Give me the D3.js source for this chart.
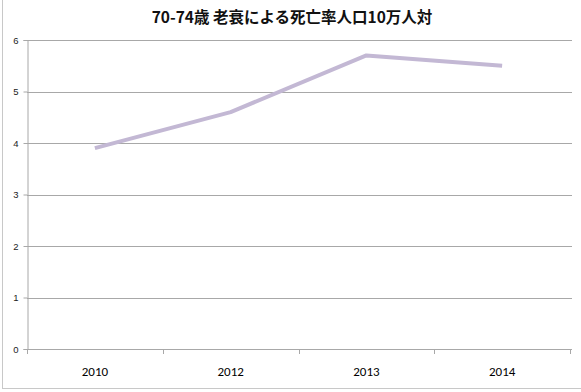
<!DOCTYPE html>
<html><head><meta charset="utf-8">
<script src="https://cdn.jsdelivr.net/npm/d3@7"></script>
<style>body{margin:0;background:#fff;}svg{display:block;}</style>
</head><body>
<svg id="c" width="581" height="392"></svg>
<script>
const title = "70-74歳 老衰による死亡率人口10万人対";
const categories = ["2010", "2012", "2013", "2014"];
const values = [3.9, 4.6, 5.7, 5.5];
const yTicks = [0, 1, 2, 3, 4, 5, 6];

const svg = d3.select("#c");
const W = 581, H = 392;
const m = {left: 27, right: 11, top: 40, bottom: 43};
const x = d3.scaleBand().domain(categories).range([m.left, W - m.right]);
const y = d3.scaleLinear().domain([0, 6]).range([H - m.bottom, m.top]);

// frame edges
svg.append("line").attr("x1", 2.5).attr("x2", 2.5).attr("y1", 0).attr("y2", 388).attr("stroke", "#c8c8c8");
svg.append("line").attr("x1", 2).attr("x2", W).attr("y1", 388.5).attr("y2", 388.5).attr("stroke", "#c8c8c8");

// gridlines
svg.append("g").selectAll("line").data(yTicks).join("line")
  .attr("x1", m.left).attr("x2", W - m.right + 2)
  .attr("y1", d => Math.round(y(d)) + 0.5).attr("y2", d => Math.round(y(d)) + 0.5)
  .attr("stroke", "#a8a8a8").attr("stroke-width", 1);

// y axis
const yAx = svg.append("g").attr("transform", `translate(${m.left + 0.5},0)`)
  .call(d3.axisLeft(y).tickValues(yTicks).tickSize(4).tickPadding(5).tickFormat(d3.format("d")));
yAx.select(".domain").attr("stroke", "#a8a8a8");
yAx.selectAll(".tick line").attr("stroke", "#a8a8a8");
yAx.selectAll("text").attr("font-family", "Liberation Sans, Arial, sans-serif").attr("font-size", 9.5).attr("fill", "#222");

// x axis
const xAx = svg.append("g").attr("transform", `translate(0,${Math.round(y(0)) + 0.5})`)
  .call(d3.axisBottom(x).tickSize(0).tickPadding(17));
xAx.select(".domain").remove();
xAx.selectAll("text").attr("font-family", "Carlito, 'Liberation Sans', sans-serif").attr("font-size", 13).attr("fill", "#000");
const bounds = categories.map(c => x(c)).concat([x(categories[categories.length - 1]) + x.bandwidth()]);
svg.append("g").selectAll("line").data(bounds).join("line")
  .attr("x1", d => Math.round(d) + 0.5).attr("x2", d => Math.round(d) + 0.5)
  .attr("y1", Math.round(y(0))).attr("y2", Math.round(y(0)) + 5)
  .attr("stroke", "#a8a8a8");

// line
const line = d3.line().x((d, i) => x(categories[i]) + x.bandwidth() / 2).y(d => y(d));
svg.append("path").datum(values).attr("d", line)
  .attr("fill", "none").attr("stroke", "#c3b8d4").attr("stroke-width", 4)
  .attr("stroke-linejoin", "round");

// title
svg.append("text").attr("x", 292).attr("y", 23).attr("text-anchor", "middle")
  .attr("font-family", "'Noto Sans CJK JP', sans-serif").attr("font-weight", "bold")
  .attr("font-size", 15.5).attr("fill", "#111").text(title);
</script>
</body></html>
